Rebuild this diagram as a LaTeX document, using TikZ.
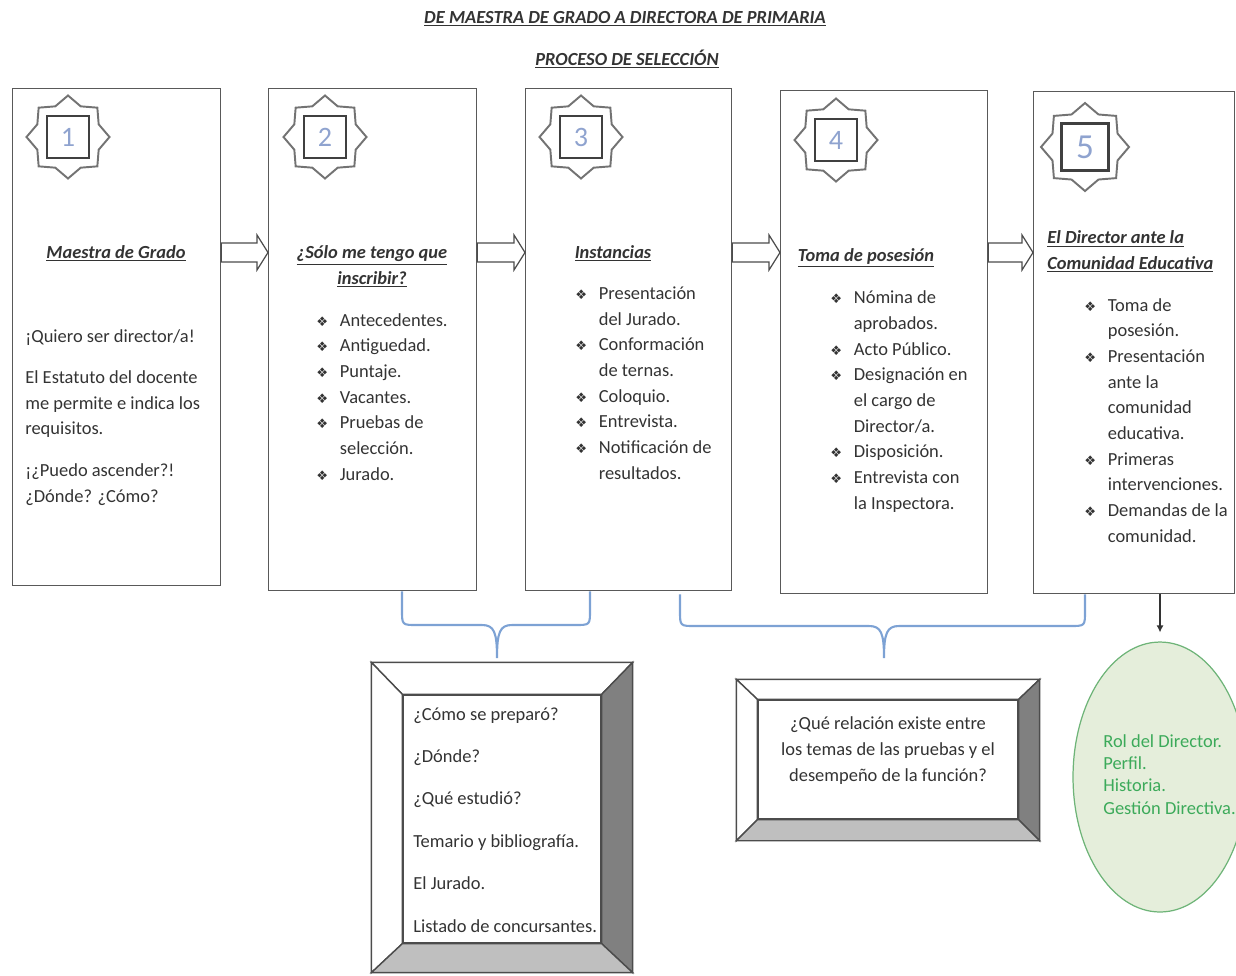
\documentclass[tikz,border=0pt]{standalone}
\usepackage{fontspec}
\setmainfont{Carlito}
\newfontfamily\symbfont{DejaVu Sans}
\usetikzlibrary{shapes.geometric,arrows.meta}
\definecolor{bleuacc}{RGB}{125,162,212}
\definecolor{bleunum}{RGB}{143,163,207}
\definecolor{vertell}{RGB}{229,238,219}
\definecolor{vertbord}{RGB}{110,180,120}
\definecolor{verttxt}{RGB}{60,170,90}
\newcommand\puce{\makebox[0.47cm][l]{\symbfont\fontsize{7.5}{7.5}\selectfont ❖}}
\newcommand\suite{\hspace*{0.47cm}}
\tikzset{
	boite/.style={draw=black!65, line width=0.8pt, inner sep=0pt, anchor=north west},
	fleche/.style={draw=black!70, fill=white, line width=0.7pt},
	etoile/.style={star, star points=8, star point ratio=1.25, draw=black!55, line width=1.1pt, minimum size=1.66cm, inner sep=0pt},
	numero/.style={draw=black!75, line width=1.3pt, minimum size=0.84cm, inner sep=0pt, text=bleunum, font=\fontsize{16}{16}\selectfont},
	titre/.style={font=\fontsize{10.5}{12}\selectfont\bfseries\itshape, text=black!80, inner sep=0pt, anchor=base},
	entete/.style={font=\fontsize{10.5}{14.6}\selectfont\bfseries\itshape, text=black!80, inner sep=0pt, anchor=base, align=center},
	texte/.style={font=\fontsize{10.5}{14.6}\selectfont, text=black!80, inner sep=0pt, anchor=base west, align=left},
	accolade/.style={draw=bleuacc, line width=1.2pt},
	biseau/.style={draw=black!70, line width=0.8pt, inner sep=0pt},
}
\begin{document}
\begin{tikzpicture}[x=0.02cm, y=-0.02cm]
	\useasboundingbox (0,0) rectangle (1236,975);
	% les titres
	\node[titre] (titre1) at (625,23) {\underline{DE MAESTRA DE GRADO A DIRECTORA DE PRIMARIA}};
	\node[titre] (titre2) at (627,65) {\underline{PROCESO DE SELECCIÓN}};
	% les cinq cadres
	\node[boite, minimum width=4.16cm, minimum height=9.94cm] (b1) at (12,88) {};
	\node[boite, minimum width=4.16cm, minimum height=10.04cm] (b2) at (268,88) {};
	\node[boite, minimum width=4.12cm, minimum height=10.04cm] (b3) at (525,88) {};
	\node[boite, minimum width=4.14cm, minimum height=10.06cm] (b4) at (780,90) {};
	\node[boite, minimum width=4.02cm, minimum height=10.04cm] (b5) at (1033,91) {};
	% les fleches entre les cadres
	\foreach \a/\b in {b1/b2,b2/b3,b3/b4,b4/b5}{
		\draw[fleche] (\a.east |- 0,243) -- ([xshift=-0.22cm]\b.west |- 0,243) -- ([xshift=-0.22cm]\b.west |- 0,235) -- (\b.west |- 0,252.5) -- ([xshift=-0.22cm]\b.west |- 0,270) -- ([xshift=-0.22cm]\b.west |- 0,262) -- (\a.east |- 0,262) -- cycle;
	}
	% les etoiles numerotees
	\node[etoile] (e1) at (68,137) {};
	\node[numero] (n1) at (e1) {1};
	\node[etoile] (e2) at (325,137) {};
	\node[numero] (n2) at (e2) {2};
	\node[etoile] (e3) at (581,137) {};
	\node[numero] (n3) at (e3) {3};
	\node[etoile] (e4) at (836,140) {};
	\node[numero] (n4) at (e4) {4};
	\node[etoile, minimum size=1.76cm] (e5) at (1085,147) {};
	\node[numero, minimum size=0.94cm, font=\fontsize{20}{20}\selectfont] (n5) at (e5) {5};
	% les entetes (ancre sur la derniere ligne)
	\node[entete] (h1) at (116,258) {\underline{Maestra de Grado}};
	\node[entete] (h2) at (372,284) {\underline{¿Sólo me tengo que}\\ \underline{inscribir?}};
	\node[entete] (h3) at (613,258) {\underline{Instancias}};
	\node[entete] (h4) at (866,261) {\underline{Toma de posesión}};
	\node[entete, anchor=base west, align=left] (h5) at (1047,269) {\underline{El Director ante la}\\ \underline{Comunidad Educativa}};
	% les textes des cadres
	\node[texte] (t1) at (25,502) {¡Quiero ser director/a!\\[9pt] El Estatuto del docente\\ me permite e indica los\\ requisitos.\\[9pt] ¡¿Puedo ascender?!\\ ¿Dónde? ¿Cómo?};
	\node[texte] (t2) at (316,480) {\puce Antecedentes.\\ \puce Antiguedad.\\ \puce Puntaje.\\ \puce Vacantes.\\ \puce Pruebas de\\ \suite selección.\\ \puce Jurado.};
	\node[texte] (t3) at (575,479) {\puce Presentación\\ \suite del Jurado.\\ \puce Conformación\\ \suite de ternas.\\ \puce Coloquio.\\ \puce Entrevista.\\ \puce Notificación de\\ \suite resultados.};
	\node[texte] (t4) at (830,509) {\puce Nómina de\\ \suite aprobados.\\ \puce Acto Público.\\ \puce Designación en\\ \suite el cargo de\\ \suite Director/a.\\ \puce Disposición.\\ \puce Entrevista con\\ \suite la Inspectora.};
	\node[texte] (t5) at (1084,542) {\puce Toma de\\ \suite posesión.\\ \puce Presentación\\ \suite ante la\\ \suite comunidad\\ \suite educativa.\\ \puce Primeras\\ \suite intervenciones.\\ \puce Demandas de la\\ \suite comunidad.};
	% les accolades
	\draw[accolade] (b2.south -| 402,0) -- (402,610) .. controls (402,625) .. (417,625) -- (482,625) .. controls (494,625) and (497,632) .. (497,658) .. controls (497,632) and (500,625) .. (512,625) -- (575,625) .. controls (590,625) .. (590,610) -- (b3.south -| 590,0);
	\draw[accolade] (b4.south -| 680,0) -- (680,611) .. controls (680,626) .. (695,626) -- (869,626) .. controls (881,626) and (884,633) .. (884,658) .. controls (884,633) and (887,626) .. (899,626) -- (1070,626) .. controls (1085,626) .. (1085,611) -- (b5.south -| 1085,0);
	% les cadres en biseau
	\node[biseau, minimum width=5.2cm, minimum height=6.18cm] (cadreA) at (502,817.5) {};
	\node[biseau, minimum width=3.96cm, minimum height=4.96cm] (qA) at (502,819) {};
	\draw[biseau, fill=white] (cadreA.north west) -- (cadreA.north east) -- (qA.north east) -- (qA.north west) -- cycle;
	\draw[biseau, fill=white] (cadreA.north west) -- (cadreA.south west) -- (qA.south west) -- (qA.north west) -- cycle;
	\draw[biseau, fill=black!50] (cadreA.north east) -- (cadreA.south east) -- (qA.south east) -- (qA.north east) -- cycle;
	\draw[biseau, fill=black!25] (cadreA.south west) -- (cadreA.south east) -- (qA.south east) -- (qA.south west) -- cycle;
	\node[texte, font=\fontsize{10.5}{24.1}\selectfont] (tA) at (413,932) {¿Cómo se preparó?\\ ¿Dónde?\\ ¿Qué estudió?\\ Temario y bibliografía.\\ El Jurado.\\ Listado de concursantes.};
	\node[biseau, minimum width=6.04cm, minimum height=3.2cm] (cadreB) at (888,760) {};
	\node[biseau, minimum width=5.2cm, minimum height=2.38cm] (qB) at (888,759.5) {};
	\draw[biseau, fill=white] (cadreB.north west) -- (cadreB.north east) -- (qB.north east) -- (qB.north west) -- cycle;
	\draw[biseau, fill=white] (cadreB.north west) -- (cadreB.south west) -- (qB.south west) -- (qB.north west) -- cycle;
	\draw[biseau, fill=black!50] (cadreB.north east) -- (cadreB.south east) -- (qB.south east) -- (qB.north east) -- cycle;
	\draw[biseau, fill=black!25] (cadreB.south west) -- (cadreB.south east) -- (qB.south east) -- (qB.south west) -- cycle;
	\node[texte, anchor=base, align=center] (tB) at (888,781) {¿Qué relación existe entre\\ los temas de las pruebas y el\\ desempeño de la función?};
	% l'ellipse
	\node[ellipse, draw=vertbord, fill=vertell, line width=0.7pt, minimum width=3.48cm, minimum height=5.4cm, inner sep=0pt] (ell) at (1160,777) {};
	\draw[-{Latex[length=4pt,width=4pt]}, black!80, line width=0.7pt] (b5.south -| ell.north) -- ([yshift=0.18cm]ell.north);
	\node[texte, font=\fontsize{10.5}{12.6}\selectfont, text=verttxt] (tE) at (1103,814) {Rol del Director.\\ Perfil.\\ Historia.\\ Gestión Directiva.};
\end{tikzpicture}
\end{document}
